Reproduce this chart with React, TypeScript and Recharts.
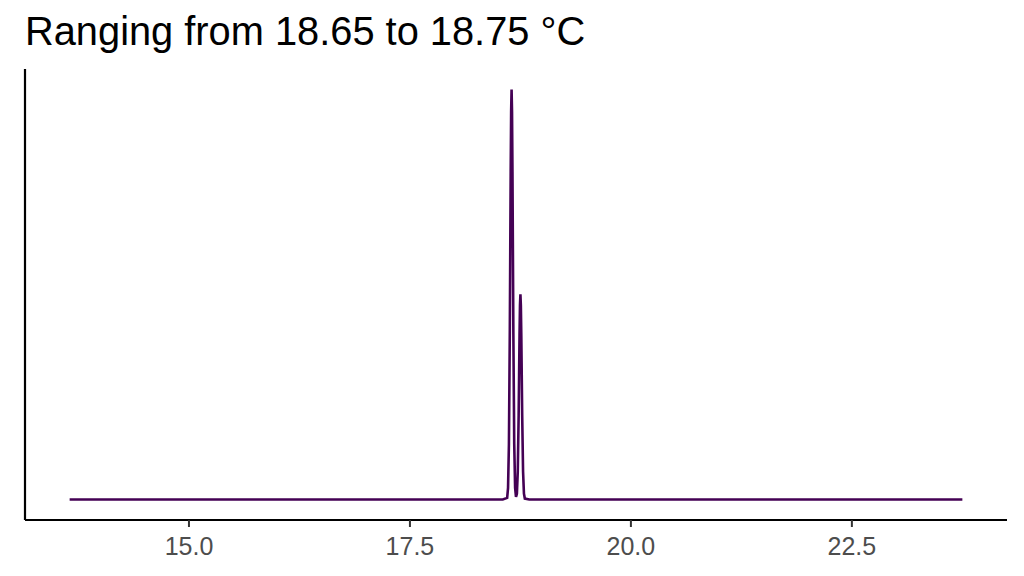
import { LineChart, Line, XAxis, YAxis } from 'recharts';

// density estimate of the temperature readings (°C)
const temperature = [
  13.65, 18.55, 18.6, 18.61, 18.62, 18.63, 18.635, 18.64, 18.645, 18.65,
  18.655, 18.66, 18.665, 18.67, 18.68, 18.69, 18.7, 18.71, 18.72, 18.73,
  18.735, 18.74, 18.745, 18.75, 18.755, 18.76, 18.765, 18.77, 18.78, 18.79,
  18.8, 18.85, 23.75,
];
const density = [
  0, 0, 0.07, 0.5, 2.4, 7.29, 10.76, 14.18, 16.77, 17.73,
  16.77, 14.18, 10.76, 7.29, 2.4, 0.5, 0.11, 0.25, 1.2, 3.65,
  5.38, 7.09, 8.39, 8.87, 8.39, 7.09, 5.38, 3.65, 1.2, 0.25,
  0.04, 0, 0,
];
const xTicks = [15, 17.5, 20, 22.5];

const title = 'Ranging from 18.65 to 18.75 °C';

const data = temperature.map((t, i) => ({ temp: t, density: density[i] }));

const xDomain: [number, number] = [13.145, 24.255];
const yDomain: [number, number] = [-0.887, 18.62];

const FONT = '"Liberation Sans", Arial, Helvetica, sans-serif';

export default function App() {
  return (
    <div
      style={{
        position: 'fixed',
        left: 0,
        top: 0,
        width: 1024,
        height: 576,
        background: '#ffffff',
        fontFamily: FONT,
      }}
    >
      <svg
        width={1024}
        height={60}
        style={{ position: 'absolute', left: 0, top: 0 }}
      >
        <text x={25} y={45} fontSize={39.8} fill="#000000" fontFamily={FONT}>
          {title}
        </text>
      </svg>
      <LineChart
        width={1024}
        height={576}
        data={data}
        margin={{ top: 69, right: 17, bottom: 0, left: 23 }}
      >
        <XAxis
          dataKey="temp"
          type="number"
          domain={xDomain}
          ticks={xTicks}
          allowDataOverflow
          height={56}
          tickSize={7}
          tickMargin={10}
          tickFormatter={(v: number) => v.toFixed(1)}
          tick={{ fill: '#4d4d4d', fontSize: 25, fontFamily: FONT }}
          tickLine={{ stroke: '#333333', strokeWidth: 2 }}
          axisLine={{ stroke: '#000000', strokeWidth: 2.2 }}
        />
        <YAxis
          type="number"
          domain={yDomain}
          allowDataOverflow
          width={2}
          tick={false}
          tickLine={false}
          axisLine={{ stroke: '#000000', strokeWidth: 2.2 }}
        />
        <Line
          type="linear"
          dataKey="density"
          stroke="#440154"
          strokeWidth={2.6}
          dot={false}
          activeDot={false}
          isAnimationActive={false}
        />
      </LineChart>
    </div>
  );
}
